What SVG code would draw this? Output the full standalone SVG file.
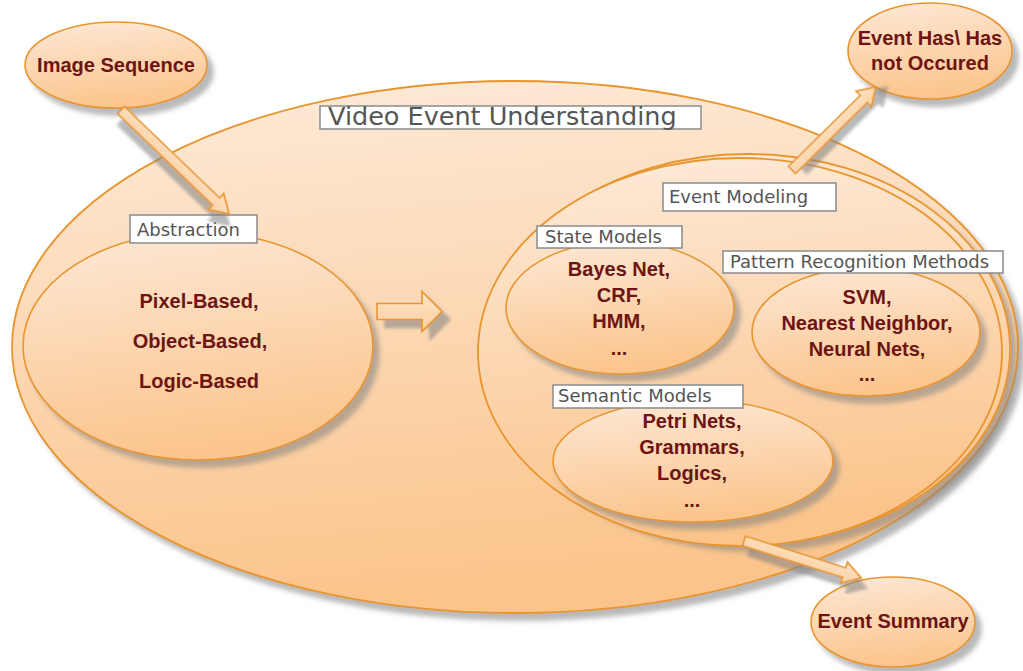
<svg xmlns="http://www.w3.org/2000/svg" width="1023" height="671" viewBox="0 0 1023 671">
  <defs>
    <linearGradient id="gBig" x1="0" y1="0" x2="0.15" y2="1">
      <stop offset="0" stop-color="#fdebda"/>
      <stop offset="1" stop-color="#fbc48b"/>
    </linearGradient>
    <linearGradient id="gNode" x1="0.1" y1="0" x2="0.3" y2="1">
      <stop offset="0" stop-color="#fde8d6"/>
      <stop offset="1" stop-color="#fbc58d"/>
    </linearGradient>
    <linearGradient id="gArrow" x1="0" y1="0" x2="0" y2="1">
      <stop offset="0" stop-color="#fde3c7"/>
      <stop offset="1" stop-color="#fbcf9f"/>
    </linearGradient>
    <filter id="sh" x="-10%" y="-10%" width="130%" height="135%">
      <feGaussianBlur in="SourceAlpha" stdDeviation="2.5"/>
      <feOffset dx="6" dy="7" result="o"/>
      <feFlood flood-color="#808080" flood-opacity="0.55"/>
      <feComposite in2="o" operator="in"/>
      <feMerge><feMergeNode/><feMergeNode in="SourceGraphic"/></feMerge>
    </filter>
    <filter id="shA" x="-30%" y="-30%" width="170%" height="170%">
      <feGaussianBlur in="SourceAlpha" stdDeviation="1.5"/>
      <feOffset dx="8" dy="8" result="o"/>
      <feFlood flood-color="#808080" flood-opacity="0.55"/>
      <feComposite in2="o" operator="in"/>
      <feMerge><feMergeNode/><feMergeNode in="SourceGraphic"/></feMerge>
    </filter>
  </defs>
  <style>
    .ell { fill: url(#gNode); stroke: #e8952e; stroke-width: 1.6; }
    .big { fill: url(#gBig); stroke: #e8952e; stroke-width: 1.8; }
    .box { fill: #ffffff; stroke: #8a8a8a; stroke-width: 1.5; }
    .lbl { font-family: "DejaVu Sans", sans-serif; font-size: 18px; fill: #555555; }
    .txt { font-family: "Liberation Sans", Arial, sans-serif; font-size: 20px; font-weight: bold; fill: #6e1414; text-anchor: middle; }
    .arr { fill: url(#gArrow); stroke: #e8952e; stroke-width: 1.6; stroke-linejoin: miter; }
  </style>

  <g id="video-event-understanding">
    <ellipse class="big" cx="515" cy="347" rx="503" ry="266" filter="url(#sh)"/>
    <rect class="box" x="320" y="106" width="381" height="23"/>
    <text class="lbl" x="328" y="125" style="font-size:25.5px">Video Event Understanding</text>
  </g>

  <g id="abstraction">
    <ellipse class="ell" cx="198" cy="346" rx="175" ry="114" filter="url(#sh)"/>
    <rect class="box" x="130" y="215" width="127" height="28"/>
    <text class="lbl" x="137" y="236">Abstraction</text>
    <text class="txt" x="199" y="308">Pixel-Based,</text>
    <text class="txt" x="200" y="348">Object-Based,</text>
    <text class="txt" x="199" y="388">Logic-Based</text>
  </g>

  <g id="event-modeling">
    <ellipse class="big" cx="748" cy="349" rx="262" ry="195" filter="url(#sh)"/>
    <ellipse class="big" cx="740" cy="352" rx="262" ry="194"/>
    <rect class="box" x="663" y="183" width="173" height="28"/>
    <text class="lbl" x="669" y="203">Event Modeling</text>
  </g>

  <g id="state-models">
    <ellipse class="ell" cx="620" cy="308" rx="114" ry="66" filter="url(#sh)"/>
    <rect class="box" x="537" y="226" width="145" height="22"/>
    <text class="lbl" x="545" y="243">State Models</text>
    <text class="txt" x="619" y="276">Bayes Net,</text>
    <text class="txt" x="619" y="302">CRF,</text>
    <text class="txt" x="619" y="328">HMM,</text>
    <text class="txt" x="619" y="355">...</text>
  </g>

  <g id="pattern-recognition">
    <ellipse class="ell" cx="866" cy="332" rx="114" ry="64" filter="url(#sh)"/>
    <rect class="box" x="723" y="251" width="280" height="22"/>
    <text class="lbl" x="730" y="268">Pattern Recognition Methods</text>
    <text class="txt" x="867" y="304">SVM,</text>
    <text class="txt" x="867" y="330">Nearest Neighbor,</text>
    <text class="txt" x="867" y="356">Neural Nets,</text>
    <text class="txt" x="867" y="381">...</text>
  </g>

  <g id="semantic-models">
    <ellipse class="ell" cx="693" cy="461" rx="140" ry="61" filter="url(#sh)"/>
    <rect class="box" x="553" y="385" width="190" height="23"/>
    <text class="lbl" x="558" y="402">Semantic Models</text>
    <text class="txt" x="692" y="428">Petri Nets,</text>
    <text class="txt" x="692" y="454">Grammars,</text>
    <text class="txt" x="692" y="480">Logics,</text>
    <text class="txt" x="692" y="507">...</text>
  </g>

  <g id="image-sequence">
    <ellipse class="ell" cx="116" cy="65" rx="91" ry="43" filter="url(#sh)"/>
    <text class="txt" x="116" y="72">Image Sequence</text>
  </g>

  <g id="event-has-not-occured">
    <ellipse class="ell" cx="930" cy="51" rx="82" ry="48" filter="url(#sh)"/>
    <text class="txt" x="930" y="45">Event Has\ Has</text>
    <text class="txt" x="930" y="70">not Occured</text>
  </g>

  <g id="event-summary">
    <ellipse class="ell" cx="893" cy="622" rx="82" ry="45" filter="url(#sh)"/>
    <text class="txt" x="893" y="628">Event Summary</text>
  </g>

  <g id="connectors">
    <path class="arr" filter="url(#shA)" transform="translate(121,110) rotate(43.9)" d="M0,-5 L132,-5 L132,-11 L150,0 L132,11 L132,5 L0,5 Z"/>
    <path class="arr" filter="url(#shA)" transform="translate(377,311.5)" d="M0,-8 L45,-8 L45,-20 L65,0 L45,20 L45,8 L0,8 Z"/>
    <path class="arr" filter="url(#shA)" transform="translate(792,170) rotate(-44.7)" d="M0,-5 L101,-5 L101,-11 L118,0 L101,11 L101,5 L0,5 Z"/>
    <path class="arr" filter="url(#shA)" transform="translate(744,541) rotate(17.5)" d="M0,-5 L105,-5 L105,-11 L123,0 L105,11 L105,5 L0,5 Z"/>
  </g>
</svg>
